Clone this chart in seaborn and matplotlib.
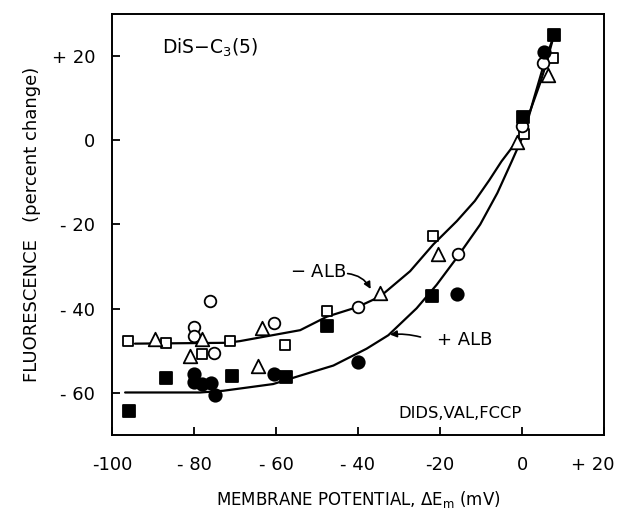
import matplotlib
matplotlib.use("Agg")
import matplotlib.pyplot as plt
import matplotlib.transforms as mtransforms
import seaborn as sns

# ---- data ----
open_sq_x = [-96.2, -86.9, -78.0, -71.2, -57.8, -47.6, -21.6, 0.5, 7.6]
open_sq_y = [-47.7, -48.1, -50.7, -47.7, -48.7, -40.6, -22.8, 1.5, 19.6]

open_circ_x = [-79.9, -79.9, -76.1, -75.1, -60.4, -40.1, -15.7, -0.1, 5.2]
open_circ_y = [-44.3, -46.5, -38.1, -50.5, -43.4, -39.6, -26.9, 3.4, 18.4]

tri_x = [-89.5, -78.0, -81.0, -64.3, -63.3, -34.6, -20.6, -1.1, 6.4]
tri_y = [-47.1, -47.3, -51.3, -53.5, -44.7, -36.3, -26.9, -0.4, 15.6]

filled_sq_x = [-95.8, -86.9, -70.8, -57.6, -47.6, -21.9, 0.3, 7.8]
filled_sq_y = [-64.3, -56.5, -55.9, -56.3, -44.1, -37.1, 5.6, 25.1]

filled_circ_x = [-79.9, -79.9, -78.1, -75.9, -75.0, -60.4, -40.1, -15.9, 5.4]
filled_circ_y = [-55.5, -57.5, -57.9, -57.6, -60.5, -55.6, -52.7, -36.5, 20.9]

minus_alb_x = [-94.4, -72.0, -68.8, -54.1, -47.6, -40.1, -34.6, -27.3, -21.6, -15.9, -11.5, -8.0, -5.0, -1.1, 2.0, 4.4, 6.0, 7.8]
minus_alb_y = [-48.3, -48.1, -47.7, -45.1, -41.9, -39.6, -37.1, -31.1, -24.7, -19.2, -14.4, -9.5, -5.0, 0.0, 7.0, 13.5, 18.5, 25.0]

plus_alb_x = [-96.8, -78.5, -72.9, -60.7, -54.1, -46.0, -37.9, -32.6, -25.7, -20.8, -15.9, -10.2, -6.0, -2.5, 0.5, 2.8, 5.2, 7.8]
plus_alb_y = [-59.9, -59.9, -59.5, -57.9, -55.9, -53.5, -49.5, -46.3, -39.9, -34.3, -27.9, -20.0, -12.5, -5.0, 1.6, 9.6, 17.6, 25.0]

x_ticks = [-100, -80, -60, -40, -20, 0, 20]
x_tick_labels = ["-100", "- 80", "- 60", "- 40", "-20", "0", "+ 20"]
y_ticks = [-60, -40, -20, 0, 20]
y_tick_labels = ["- 60", "- 40", "- 20", "0", "+ 20"]

sns.set_style("white")
plt.rcParams['font.family'] = ['DejaVu Sans']
plt.rcParams['mathtext.fontset'] = 'dejavusans'
plt.rcParams['text.color'] = 'black'
plt.rcParams['axes.labelcolor'] = 'black'

fig = plt.figure(figsize=(6.18, 5.16), dpi=100)
ax = fig.add_axes([112/618, 1-435/516, (604-112)/618, (435-14)/516])

lw = 1.6
sns.lineplot(x=minus_alb_x, y=minus_alb_y, sort=False, estimator=None, color='black', lw=lw, ax=ax)
sns.lineplot(x=plus_alb_x, y=plus_alb_y, sort=False, estimator=None, color='black', lw=lw, ax=ax)

mk = dict(edgecolor='black', linewidth=1.3, ax=ax, zorder=3)
sns.scatterplot(x=open_sq_x, y=open_sq_y, marker='s', s=60, color='white', **mk)
sns.scatterplot(x=open_circ_x, y=open_circ_y, marker='o', s=70, color='white', **mk)
sns.scatterplot(x=tri_x, y=tri_y, marker='^', s=95, color='white', **mk)
sns.scatterplot(x=filled_sq_x, y=filled_sq_y, marker='s', s=65, color='black', **mk)
sns.scatterplot(x=filled_circ_x, y=filled_circ_y, marker='o', s=80, color='black', **mk)

ax.set_xlim(-100, 20)
ax.set_ylim(-70, 30)
ax.set_xticks(x_ticks)
ax.set_xticklabels(x_tick_labels)
ax.set_yticks(y_ticks)
ax.set_yticklabels(y_tick_labels)
ax.tick_params(axis='both', direction='in', length=6, width=1.3, colors='black', labelsize=13)
ax.tick_params(axis='x', pad=15)
ax.tick_params(axis='y', pad=12)
ax.tick_params(top=False, right=False, bottom=True, left=True)
for sp in ax.spines.values():
    sp.set_linewidth(1.4)
    sp.set_color('black')

# last x tick label sits slightly left of its tick in the reference
last = ax.get_xticklabels()[-1]
last.set_transform(last.get_transform() + mtransforms.ScaledTranslation(-0.11, 0, fig.dpi_scale_trans))

ax.set_xlabel(r'MEMBRANE POTENTIAL, $\Delta$E$_\mathrm{m}$ (mV)', fontsize=12, labelpad=11, color='black')
ax.set_ylabel('FLUORESCENCE   (percent change)', fontsize=13, labelpad=8, color='black')

ax.text(-87.8, 22, r'DiS$-$C$_3$(5)', fontsize=13.5, va='center', ha='left', color='black')
ax.text(-30.2, -64.9, 'DIDS,VAL,FCCP', fontsize=11.8, va='center', ha='left', color='black')

ax.annotate('', xy=(-36.6, -35.9), xytext=(-43.2, -31.6),
            arrowprops=dict(arrowstyle='-|>', color='black', lw=1.2,
                            connectionstyle='arc3,rad=-0.3', mutation_scale=10))
ax.text(-49.8, -31.2, '$-$ ALB', fontsize=13, va='center', ha='center', color='black')
ax.annotate('', xy=(-32.9, -46.2), xytext=(-24.1, -46.9),
            arrowprops=dict(arrowstyle='-|>', color='black', lw=1.2,
                            connectionstyle='arc3,rad=0.1', mutation_scale=10))
ax.text(-14.1, -47.4, '+ ALB', fontsize=13, va='center', ha='center', color='black')

fig.savefig('out.png', dpi=100)
